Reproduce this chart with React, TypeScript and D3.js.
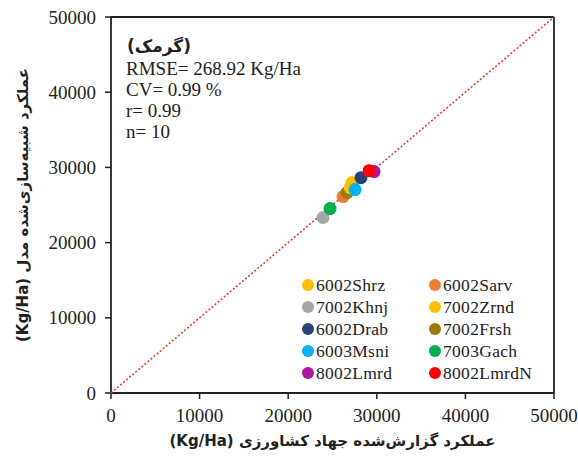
import React from "react";
import * as d3 from "d3";

const names = ["6002Shrz","6002Sarv","7002Khnj","7002Zrnd","6002Drab","7002Frsh","6003Msni","7003Gach","8002Lmrd","8002LmrdN"];
const colors = ["#FFC000","#ED7D31","#A5A5A5","#FFC000","#264478","#9E7A0A","#00B0F0","#00B050","#B0169F","#FF0000"];
const observed = [27000,26190,23930,27210,28220,26640,27550,24720,29690,29130];
const simulated = [27300,26120,23340,27980,28640,26650,27050,24530,29440,29570];
const ticks = [0,10000,20000,30000,40000,50000];
const statLines = ["RMSE= 268.92 Kg/Ha","CV= 0.99 %","r= 0.99","n= 10"];
const panelTitle = "(گرمک)";
const xTitle = "عملکرد گزارش‌شده جهاد کشاورزی (Kg/Ha)";
const yTitle = "عملکرد شبیه‌سازی‌شده مدل (Kg/Ha)";
// draw order (back to front)
const drawOrder = [2,7,1,5,0,3,6,4,8,9];

export default function App() {
  const W = 578, H = 457;
  const L = 111, R = 554, T = 17, B = 393;
  const x = d3.scaleLinear().domain([0, 50000]).range([L, R]);
  const y = d3.scaleLinear().domain([0, 50000]).range([B, T]);
  const serif = "'Liberation Serif', 'Times New Roman', 'DejaVu Sans', serif";
  const axisCol = "#222";
  return (
    <svg width={W} height={H} style={{ position: "absolute", left: 0, top: 0, background: "#fff" }} fontFamily={serif}>
      <rect x={0} y={0} width={W} height={H} fill="#fff" />
      {/* frame */}
      <line x1={L} y1={T} x2={R} y2={T} stroke={axisCol} strokeWidth={1.8} />
      <line x1={R} y1={T} x2={R} y2={B} stroke={axisCol} strokeWidth={1.8} />
      <line x1={L} y1={T} x2={L} y2={B} stroke={axisCol} strokeWidth={1.8} />
      <line x1={L} y1={B} x2={R} y2={B} stroke={axisCol} strokeWidth={1.8} />
      {ticks.map((t) => (
        <g key={"x" + t}>
          <line x1={x(t)} x2={x(t)} y1={B} y2={B + 6} stroke={axisCol} strokeWidth={1.5} />
          <text x={x(t)} y={B + 29} textAnchor="middle" fontSize={19} fill="#222">{t}</text>
        </g>
      ))}
      {ticks.map((t) => (
        <g key={"y" + t}>
          <line x1={L - 6} x2={L} y1={y(t)} y2={y(t)} stroke={axisCol} strokeWidth={1.5} />
          <text x={L - 15} y={y(t) + 6.5} textAnchor="end" fontSize={19} fill="#222">{t}</text>
        </g>
      ))}
      {/* 1:1 line */}
      <line x1={x(0)} y1={y(0)} x2={x(50000)} y2={y(50000)} stroke="#E8393F" strokeWidth={1.6} strokeDasharray="2,2" />
      {/* points */}
      {drawOrder.map((i) => (
        <circle key={names[i]} cx={x(observed[i])} cy={y(simulated[i])} r={6.5} fill={colors[i]} />
      ))}
      {/* stats */}
      <text x={127} y={52} fontSize={17} fontWeight="bold" fill="#222" direction="rtl" textAnchor="end" fontFamily="'DejaVu Sans', sans-serif">{panelTitle}</text>
      {statLines.map((s, i) => (
        <text key={s} x={126} y={75 + i * 21} fontSize={19} fill="#222">{s}</text>
      ))}
      {/* legend */}
      {names.map((n, i) => {
        const col = i % 2;
        const row = Math.floor(i / 2);
        const mx = col === 0 ? 308 : 435;
        const my = 285 + row * 22;
        return (
          <g key={"lg" + n}>
            <circle cx={mx} cy={my} r={6} fill={colors[i]} />
            <text x={mx + 8} y={my + 6} fontSize={17.5} letterSpacing={0.3} fill="#222">{n}</text>
          </g>
        );
      })}
      {/* axis titles */}
      <text x={(L + R) / 2} y={446} textAnchor="middle" direction="rtl" fontSize={15} fontWeight="bold" fill="#222" fontFamily="'DejaVu Sans', sans-serif">{xTitle}</text>
      <text transform={`translate(28, ${(T + B) / 2}) rotate(-90)`} textAnchor="middle" direction="rtl" fontSize={15} fontWeight="bold" fill="#222" fontFamily="'DejaVu Sans', sans-serif">{yTitle}</text>
    </svg>
  );
}
